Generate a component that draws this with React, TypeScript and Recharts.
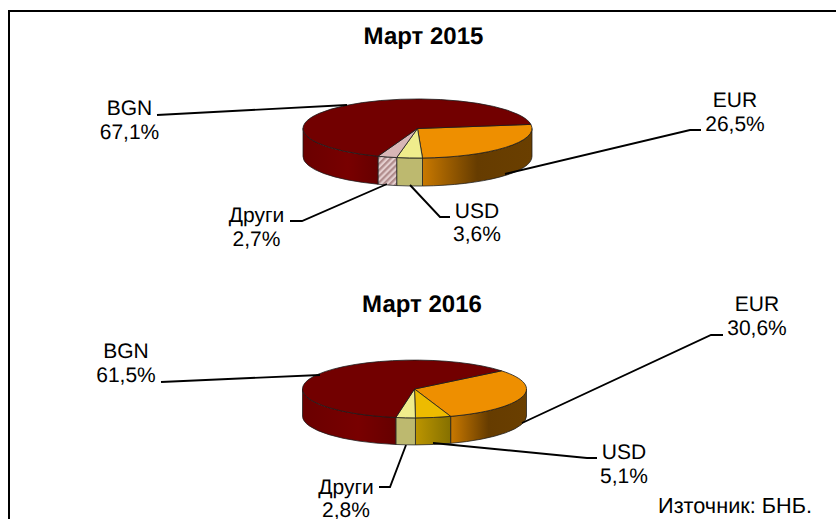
import React from 'react';
import { Pie, PieChart } from 'recharts';

// top-down order of the slices as they run clockwise on the pie
const categories2015 = ['EUR', 'USD', 'Други', 'BGN'];
const values2015 = [26.5, 3.6, 2.7, 67.1];
const categories2016 = ['EUR', 'USD', 'Други', 'BGN'];
const values2016 = [30.6, 5.1, 2.8, 61.5];

const titles = ['Март 2015', 'Март 2016'];
const sourceNote = 'Източник: БНБ.';

const topColors2015 = ['#EE8F00', '#EFEC8C', '#D8B6B6', '#720000'];
const wallColors2015 = ['url(#wallEur)', '#BDB96F', 'url(#hatch)', 'url(#wallBgn)'];
const topColors2016 = ['#EE8F00', '#EDBB00', '#EFEC8C', '#720000'];
const wallColors2016 = ['url(#wallEur)', 'url(#wallUsd)', '#BDB96F', 'url(#wallBgn)'];

type Callout = { tx: number; ty: number; line: number[][] };

// label anchor (centre, first baseline) and leader path, same order as the slices
const callouts2015: Callout[] = [
  { tx: 735, ty: 107, line: [[505, 174], [690, 130], [701, 130]] },
  { tx: 477, ty: 217.5, line: [[410, 185], [440, 217], [450, 217]] },
  { tx: 256.5, ty: 222, line: [[387, 184], [302, 221], [290, 221]] },
  { tx: 129.5, ty: 115, line: [[347, 105], [157, 115]] },
];
const callouts2016: Callout[] = [
  { tx: 757, ty: 311, line: [[522, 423], [711, 335], [723, 335]] },
  { tx: 624, ty: 459, line: [[433, 443], [587, 458], [597, 458]] },
  { tx: 346, ty: 493.5, line: [[406, 445], [390, 487], [379, 487]] },
  { tx: 126, ty: 358, line: [[320, 375], [161, 382]] },
];

const SQUASH = 0.258;
const FONT = '"Liberation Sans", Arial, sans-serif';
const RAD = Math.PI / 180;

const pt = (cx: number, cy: number, rx: number, a: number) => [
  cx + rx * Math.cos(a * RAD),
  cy - rx * SQUASH * Math.sin(a * RAD),
];

const topShape = (colors: string[]) => (props: any) => {
  const { cx, cy, outerRadius: rx, startAngle, endAngle, index } = props;
  const [x0, y0] = pt(cx, cy, rx, startAngle);
  const [x1, y1] = pt(cx, cy, rx, endAngle);
  const large = Math.abs(startAngle - endAngle) > 180 ? 1 : 0;
  const d = `M${cx},${cy}L${x0},${y0}A${rx},${rx * SQUASH} 0 ${large} 1 ${x1},${y1}Z`;
  return <path d={d} fill={colors[index]} stroke="#1c1c1c" strokeWidth={1} strokeOpacity={0.8} />;
};

const wallShape = (colors: string[], depth: number) => (props: any) => {
  const { cx, cy, outerRadius: rx, startAngle, endAngle, index } = props;
  // only the part of the rim facing the viewer, -180..0 degrees, is drawn
  const parts = [0, -360]
    .map((k) => [Math.min(startAngle, k), Math.max(endAngle, k - 180)])
    .filter(([a, b]) => a > b);
  if (!parts.length) return <g />;
  const [a, b] = parts[0];
  const [x0, y0] = pt(cx, cy, rx, a);
  const [x1, y1] = pt(cx, cy, rx, b);
  const ry = rx * SQUASH;
  const d = `M${x0},${y0}A${rx},${ry} 0 0 1 ${x1},${y1}L${x1},${y1 + depth}A${rx},${ry} 0 0 0 ${x0},${y0 + depth}Z`;
  return <path d={d} fill={colors[index]} stroke="#1c1c1c" strokeWidth={1} strokeOpacity={0.75} />;
};

const calloutLabel = (items: Callout[]) => (props: any) => {
  const { index, name, value } = props;
  const c = items[index];
  const pct = `${Number(value).toFixed(1).replace('.', ',')}%`;
  return (
    <g>
      <polyline
        points={c.line.map((p) => p.join(',')).join(' ')}
        fill="none"
        stroke="#000"
        strokeWidth={1.9}
      />
      <text x={c.tx} y={c.ty} textAnchor="middle" fontFamily={FONT} fontSize={21} fill="#000" textRendering="geometricPrecision">
        {name}
      </text>
      <text x={c.tx} y={c.ty + 23.5} textAnchor="middle" fontFamily={FONT} fontSize={21} fill="#000" textRendering="geometricPrecision">
        {pct}
      </text>
    </g>
  );
};

const toRows = (names: string[], values: number[]) =>
  names.map((name, i) => ({ name, value: values[i] }));

const rows2015 = toRows(categories2015, values2015);
const rows2016 = toRows(categories2016, values2016);

const App = () => (
  <div style={{ position: 'absolute', left: 0, top: 0, width: 836, height: 519, overflow: 'hidden' }}>
    <PieChart width={836} height={519} margin={{ top: 0, right: 0, bottom: 0, left: 0 }}>
      <defs>
        <linearGradient id="wallEur" x1="0" y1="0" x2="1" y2="0">
          <stop offset="0" stopColor="#C97900" />
          <stop offset="0.5" stopColor="#663C00" />
          <stop offset="1" stopColor="#6A3F00" />
        </linearGradient>
        <linearGradient id="wallUsd" x1="0" y1="0" x2="1" y2="0">
          <stop offset="0" stopColor="#BC9500" />
          <stop offset="1" stopColor="#857000" />
        </linearGradient>
        <linearGradient id="wallBgn" x1="0" y1="0" x2="1" y2="0">
          <stop offset="0" stopColor="#6A0000" />
          <stop offset="0.6" stopColor="#780000" />
          <stop offset="1" stopColor="#660000" />
        </linearGradient>
        <pattern id="hatch" width="4.4" height="4.4" patternUnits="userSpaceOnUse" patternTransform="rotate(45)">
          <rect width="4.4" height="4.4" fill="#E4CFCF" />
          <rect width="2.2" height="4.4" fill="#B08C8C" />
        </pattern>
      </defs>
      <rect x={9} y={11} width={900} height={600} fill="none" stroke="#000" strokeWidth={2} />
      <text x={423.5} y={44} textAnchor="middle" fontFamily={FONT} fontSize={24} fontWeight="bold" fill="#000" textRendering="geometricPrecision">
        {titles[0]}
      </text>
      <text x={422} y={312} textAnchor="middle" fontFamily={FONT} fontSize={24} fontWeight="bold" fill="#000" textRendering="geometricPrecision">
        {titles[1]}
      </text>
      <text x={735} y={513} textAnchor="middle" fontFamily={FONT} fontSize={21.7} fill="#000" textRendering="geometricPrecision">
        {sourceNote}
      </text>

      <Pie
        data={rows2015}
        dataKey="value"
        nameKey="name"
        cx={417.5}
        cy={128.5}
        outerRadius={114.5}
        startAngle={8}
        endAngle={-352}
        stroke="none"
        labelLine={false}
        label={false}
        shape={wallShape(wallColors2015, 28)}
        isAnimationActive={false}
      />
      <Pie
        data={rows2015}
        dataKey="value"
        nameKey="name"
        cx={417.5}
        cy={128.5}
        outerRadius={114.5}
        startAngle={8}
        endAngle={-352}
        labelLine={false}
        label={calloutLabel(callouts2015)}
        shape={topShape(topColors2015)}
        isAnimationActive={false}
      />

      <Pie
        data={rows2016}
        dataKey="value"
        nameKey="name"
        cx={414.5}
        cy={389}
        outerRadius={112}
        startAngle={39}
        endAngle={-321}
        stroke="none"
        labelLine={false}
        label={false}
        shape={wallShape(wallColors2016, 27)}
        isAnimationActive={false}
      />
      <Pie
        data={rows2016}
        dataKey="value"
        nameKey="name"
        cx={414.5}
        cy={389}
        outerRadius={112}
        startAngle={39}
        endAngle={-321}
        labelLine={false}
        label={calloutLabel(callouts2016)}
        shape={topShape(topColors2016)}
        isAnimationActive={false}
      />
    </PieChart>
  </div>
);

export default App;
